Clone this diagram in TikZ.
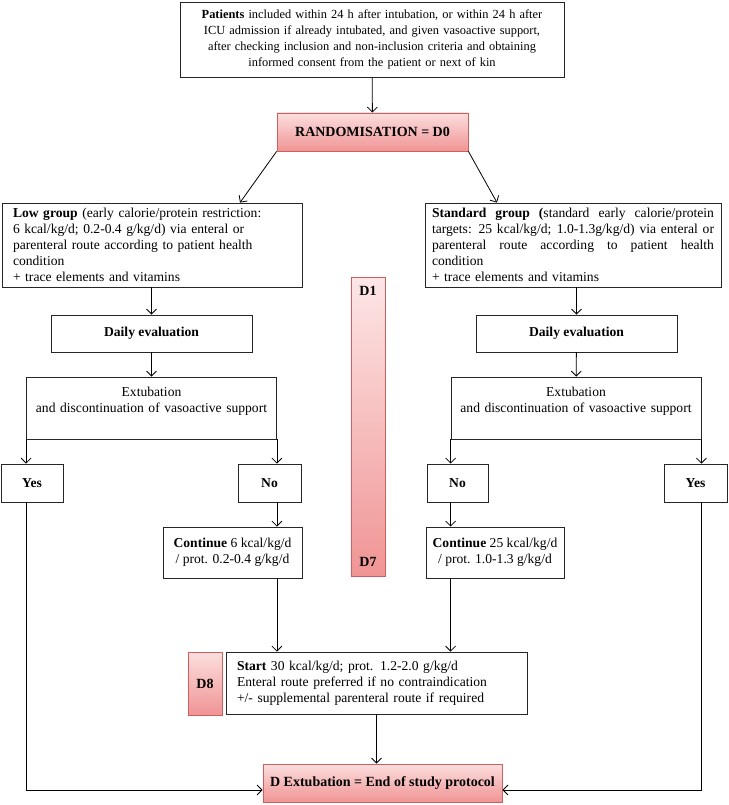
\documentclass[tikz,border=0pt]{standalone}
\usepackage{fontspec}
\setmainfont{Liberation Serif}
\usetikzlibrary{arrows.meta}
\definecolor{pinkline}{RGB}{205,95,95}
\definecolor{pinktop}{RGB}{252,222,222}
\definecolor{pinkbot}{RGB}{240,148,148}
\newcommand{\fillline}[1]{\leavevmode\hbox to 282pt{\spaceskip=0.25em plus 1fil\relax #1}}

\begin{document}
\begin{tikzpicture}[x=1pt, y=-1pt, >={Straight Barb[length=5pt,width=10pt]},
    every node/.style={font=\fontsize{13.6}{16}\selectfont},
    box/.style={draw=black!85, line width=0.8pt, fill=white, inner sep=0pt},
    boldbox/.style={box, font=\fontsize{13.6}{16}\selectfont\bfseries},
    redbox/.style={draw=pinkline, line width=0.8pt, top color=pinktop, bottom color=pinkbot, inner sep=0pt,
        font=\fontsize{14}{16}\selectfont\bfseries},
    flow/.style={->, line width=0.8pt}]
    \useasboundingbox (0,0) rectangle (728,805);
    % inclusion and randomisation
    \node[box, minimum width=384, minimum height=75, text width=374, align=center,
        font=\fontsize{12.4}{16.2}\selectfont] (pat) at (372,39.5)
        {\textbf{Patients} included within 24 h after intubation, or within 24 h after\\ICU admission if already intubated, and given vasoactive support,\\after checking inclusion and non-inclusion criteria and obtaining\\informed consent from the patient or next of kin};
    \node[redbox, minimum width=191, minimum height=38] (rand) at (372.5,132) {RANDOMISATION = D0};
    % the two arms
    \node[box, minimum width=300, minimum height=84, text width=278, align=left] (low) at (152,245)
        {\textbf{Low group} (early calorie/protein restriction:\\6 kcal/kg/d; 0.2-0.4 g/kg/d) via enteral or\\parenteral route according to patient health\\condition\\+ trace elements and vitamins};
    \node[box, minimum width=296, minimum height=84, text width=282, align=left] (std) at (573,245)
        {\fillline{\textbf{Standard group (}standard early calorie/protein}\\\fillline{targets: 25 kcal/kg/d; 1.0-1.3g/kg/d) via enteral or}\\\fillline{parenteral route according to patient health}\\condition\\+ trace elements and vitamins};
    \node[boldbox, minimum width=201, minimum height=37] (evl) at (151.5,333.5) {Daily evaluation};
    \node[boldbox, minimum width=201, minimum height=37] (evr) at (576.5,333.5) {Daily evaluation};
    \node[box, minimum width=250, minimum height=62, text width=244, align=center] (exl) at (151.5,408)
        {Extubation\\and discontinuation of vasoactive support\\ \mbox{}};
    \node[box, minimum width=250, minimum height=62, text width=244, align=center] (exr) at (576,408)
        {Extubation\\and discontinuation of vasoactive support\\ \mbox{}};
    \node[boldbox, minimum width=62, minimum height=38] (yesl) at (32,483) {Yes};
    \node[boldbox, minimum width=63, minimum height=38] (nol) at (269.5,483) {No};
    \node[boldbox, minimum width=61, minimum height=38] (nor) at (457.5,483) {No};
    \node[boldbox, minimum width=63, minimum height=38] (yesr) at (695.5,483) {Yes};
    \node[box, minimum width=139, minimum height=51, align=center] (conl) at (232.5,552.5)
        {\textbf{Continue} 6 kcal/kg/d\\/ prot. 0.2-0.4 g/kg/d};
    \node[box, minimum width=138, minimum height=51, align=center] (conr) at (495,552.5)
        {\textbf{Continue} 25 kcal/kg/d\\/ prot. 1.0-1.3 g/kg/d};
    % days
    \node[redbox, top color=pinktop!75!white, minimum width=34, minimum height=299, align=center] (days) at (368,426.5)
        {D1\\[255pt]D7};
    \node[redbox, minimum width=34, minimum height=63] (d8) at (205,683.5) {D8};
    \node[box, minimum width=301, minimum height=62, text width=279, align=left] (start) at (376.5,683)
        {\textbf{Start} 30 kcal/kg/d; prot. 1.2-2.0 g/kg/d\\Enteral route preferred if no contraindication\\+/- supplemental parenteral route if required};
    \node[redbox, minimum width=239, minimum height=38] (endp) at (382.5,783) {D Extubation = End of study protocol};
    % connectors
    \draw[flow] (pat) -- (rand);
    \draw[flow] (rand.south west) -- ([xshift=88]low.north);
    \draw[flow] (rand.south east) -- ([xshift=-76]std.north);
    \draw[flow] (low.south -| evl) -- (evl);
    \draw[flow] (std.south -| evr) -- (evr);
    \draw[flow] (evl) -- (exl);
    \draw[flow] (evr) -- (exr);
    \draw[flow] (exl.south west) -- (exl.south west |- yesl.north);
    \draw[flow] (exl.south east) -- (exl.south east |- nol.north);
    \draw[flow] (exr.south west) -- (exr.south west |- nor.north);
    \draw[flow] (exr.south east) -- (exr.south east |- yesr.north);
    \draw[flow] (nol.south -| exl.south east) -- (conl.north -| exl.south east);
    \draw[flow] (nor.south -| exr.south west) -- (conr.north -| exr.south west);
    \draw[flow] (conl.south -| exl.south east) -- (start.north -| exl.south east);
    \draw[flow] (conr.south -| exr.south west) -- (start.north -| exr.south west);
    \draw[flow] (start.south) -- (start.south |- endp.north);
    \draw[flow] (yesl.south -| exl.south west) |- ([yshift=-7]endp.west);
    \draw[flow] (yesr.south -| exr.south east) |- ([yshift=-7]endp.east);
\end{tikzpicture}
\end{document}
